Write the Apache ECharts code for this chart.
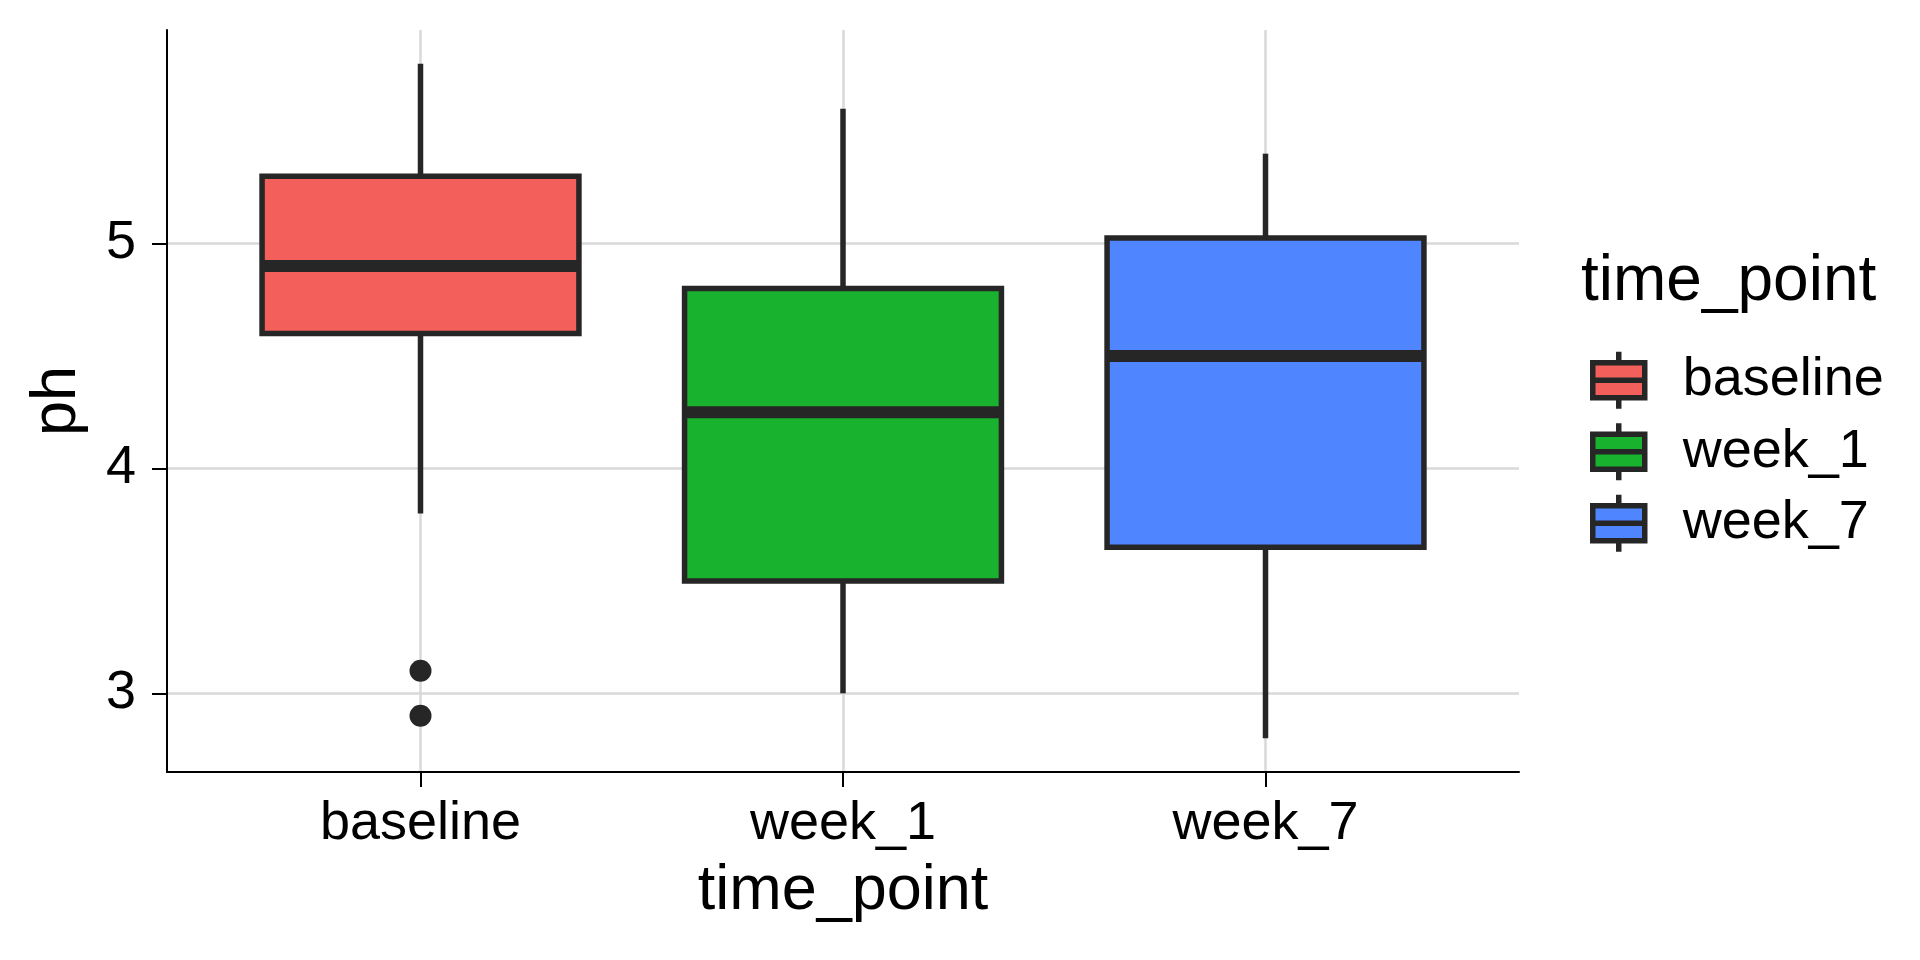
<!DOCTYPE html>
<html>
<head>
<meta charset="utf-8">
<title>ph by time_point</title>
<script src="https://cdn.jsdelivr.net/npm/echarts@6/dist/echarts.min.js"></script>
<style>
  html, body { margin: 0; padding: 0; background: #fff; }
  #main { width: 1920px; height: 960px; }
</style>
</head>
<body>
<div id="main"></div>
<script>
// data
const categories = ['baseline', 'week_1', 'week_7'];
const colors = ['#F35F5B', '#19B22E', '#4F86FF'];
const whiskerLow = [3.8, 3.0, 2.8];
const q1 = [4.6, 3.5, 3.65];
const median = [4.9, 4.25, 4.5];
const q3 = [5.3, 4.8, 5.025];
const whiskerHigh = [5.8, 5.6, 5.4];
const outlierGroup = ['baseline', 'baseline'];
const outlierValues = [3.1, 2.9];
const yTicks = [3, 4, 5];

const FONT = 'Liberation Sans, Arial, Helvetica, sans-serif';
const DARK = '#262626';

const myChart = echarts.init(document.getElementById('main'));

// 箱体
function renderBox(params, api) {
  const x = api.value(0);
  const pLow = api.coord([x, api.value(1)]);
  const pQ1 = api.coord([x, api.value(2)]);
  const pMed = api.coord([x, api.value(3)]);
  const pQ3 = api.coord([x, api.value(4)]);
  const pHigh = api.coord([x, api.value(5)]);
  const halfW = api.size([0.75, 0])[0] / 2;
  const fill = api.visual('color');
  return {
    type: 'group',
    children: [
      {
        type: 'line',
        shape: { x1: pHigh[0], y1: pHigh[1], x2: pQ3[0], y2: pQ3[1] },
        style: { stroke: DARK, lineWidth: 5.5 }
      },
      {
        type: 'line',
        shape: { x1: pQ1[0], y1: pQ1[1], x2: pLow[0], y2: pLow[1] },
        style: { stroke: DARK, lineWidth: 5.5 }
      },
      {
        type: 'rect',
        shape: { x: pQ3[0] - halfW, y: pQ3[1], width: halfW * 2, height: pQ1[1] - pQ3[1] },
        style: { fill: fill, stroke: DARK, lineWidth: 5.5 }
      },
      {
        type: 'line',
        shape: { x1: pMed[0] - halfW, y1: pMed[1], x2: pMed[0] + halfW, y2: pMed[1] },
        style: { stroke: DARK, lineWidth: 12 }
      }
    ]
  };
}

let series = [];
for (let i = 0; i < categories.length; i++) {
  series.push({
    name: categories[i],
    type: 'custom',
    renderItem: renderBox,
    itemStyle: { color: colors[i] },
    encode: { x: 0, y: [1, 2, 3, 4, 5] },
    data: [[i + 1, whiskerLow[i], q1[i], median[i], q3[i], whiskerHigh[i]]],
    z: 3
  });
}
series.push({
  name: 'outlier',
  type: 'scatter',
  symbolSize: 22,
  itemStyle: { color: DARK, opacity: 1 },
  data: outlierValues.map((v, i) => [categories.indexOf(outlierGroup[i]) + 1, v]),
  z: 4
});

const legendIcon = 'path://M3,11L55,11L55,46L3,46Z M3,28.5L55,28.5 M29,0L29,11 M29,46L29,57';

let option = {
  animation: false,
  backgroundColor: '#ffffff',
  title: {
    text: 'time_point',
    left: 1581,
    top: 250,
    padding: 0,
    textStyle: { fontFamily: FONT, fontSize: 64, fontWeight: 'normal', color: '#000' }
  },
  legend: {
    orient: 'vertical',
    left: 1590,
    top: 349,
    padding: 0,
    itemWidth: 52,
    itemHeight: 57,
    itemGap: 9,
    icon: legendIcon,
    itemStyle: { borderColor: DARK, borderWidth: 5.5 },
    textStyle: { fontFamily: FONT, fontSize: 54, color: '#000', padding: [0, 0, 0, 33] },
    data: categories.map(c => ({ name: c, icon: legendIcon }))
  },
  grid: { left: 167, right: 401, top: 30, bottom: 188, containLabel: false },
  xAxis: {
    type: 'value',
    min: 0.4,
    max: 3.6,
    name: 'time_point',
    nameLocation: 'middle',
    nameGap: 88,
    nameTextStyle: { fontFamily: FONT, fontSize: 63, color: '#000' },
    axisLine: { show: true, onZero: false, lineStyle: { color: '#000', width: 2 } },
    axisTick: { show: true, inside: false, length: 15, customValues: [1, 2, 3], lineStyle: { color: '#000', width: 2 } },
    axisLabel: {
      customValues: [1, 2, 3],
      margin: 25,
      fontFamily: FONT,
      fontSize: 54,
      color: '#000',
      formatter: v => categories[Math.round(v) - 1] || ''
    },
    splitLine: { show: true, lineStyle: { color: '#d9d9d9', width: 2.5 } }
  },
  yAxis: {
    type: 'value',
    min: 2.65,
    max: 5.95,
    name: 'ph',
    nameLocation: 'middle',
    nameRotate: 90,
    nameGap: 78,
    nameTextStyle: { fontFamily: FONT, fontSize: 63, color: '#000' },
    axisLine: { show: true, onZero: false, lineStyle: { color: '#000', width: 2 } },
    axisTick: { show: true, inside: false, length: 15, customValues: yTicks, lineStyle: { color: '#000', width: 2 } },
    axisLabel: {
      customValues: yTicks,
      margin: 31,
      fontFamily: FONT,
      fontSize: 54,
      color: '#000'
    },
    splitLine: { show: true, lineStyle: { color: '#d9d9d9', width: 2.5 } }
  },
  series: series
};

myChart.setOption(option);
</script>
</body>
</html>
